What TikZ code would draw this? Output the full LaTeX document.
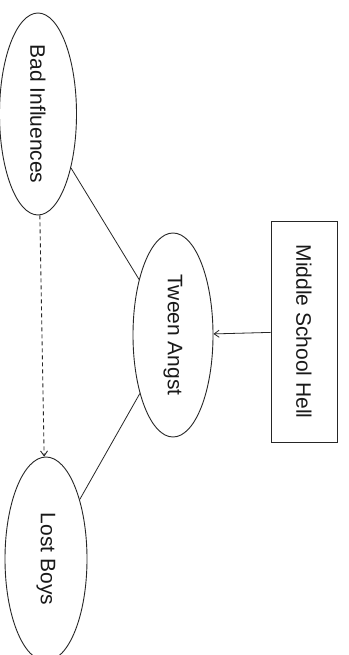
\documentclass[tikz,border=0pt]{standalone}
\usepackage{fontspec}
\setmainfont{Liberation Sans}
\usetikzlibrary{shapes.geometric,arrows.meta}
\begin{document}
\begin{tikzpicture}[x=1pt,y=-1pt,
  every node/.style={font=\fontsize{21}{25}\selectfont, text=black!90},
  oval/.style={ellipse, draw=black!85, line width=0.9pt, inner sep=0pt, rotate=-90},
  boxnode/.style={rectangle, draw=black!85, line width=0.9pt, inner sep=0pt, rotate=-90},
  link/.style={draw=black!85, line width=0.8pt},
  tip/.style={-{Straight Barb[length=5pt,width=7pt]}}]
\fill[white] (0,0) rectangle (348,655);
\useasboundingbox (0,0) rectangle (348,655);
\node[oval, minimum width=202pt, minimum height=77pt] (bad) at (38,114) {Bad Influences};
\node[oval, minimum width=204pt, minimum height=80pt] (tween) at (173,335) {Tween Angst};
\node[oval, minimum width=204pt, minimum height=82pt] (lost) at (46,559) {Lost Boys};
\node[boxnode, minimum width=221pt, minimum height=66pt] (hell) at (304,331.5) {Middle School Hell};
\draw[link] (bad) -- (tween);
\draw[link] (tween) -- (lost);
\draw[link, tip] (hell) -- (tween);
\draw[link, tip, dash pattern=on 4pt off 3pt, line width=0.9pt] (bad) -- (lost);
\end{tikzpicture}
\end{document}
